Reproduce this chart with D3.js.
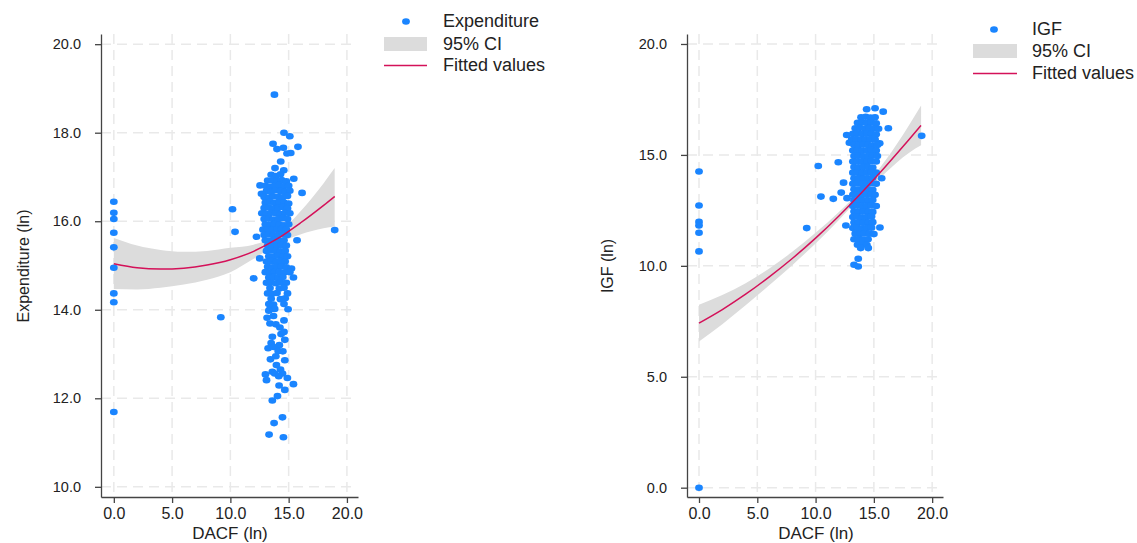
<!DOCTYPE html>
<html>
<head>
<meta charset="utf-8">
<script src="https://cdn.jsdelivr.net/npm/d3@7"></script>
<style>
  body { margin: 0; background: #fff; }
  svg { display: block; }
  text { font-family: "Liberation Sans", Arial, sans-serif; fill: #222; }
</style>
</head>
<body>
<svg id="chart" width="1137" height="543"></svg>
<script>
// ---- data ----
const xTicks = [0, 5, 10, 15, 20];
const expYTicks = [10, 12, 14, 16, 18, 20];
const igfYTicks = [0, 5, 10, 15, 20];

const expLegend = ["Expenditure", "95% CI", "Fitted values"];
const igfLegend = ["IGF", "95% CI", "Fitted values"];

// quadratic fit + 95% CI, sampled along DACF
const expFitX = [0, 2, 4, 6, 8, 10, 12, 14, 16, 18, 18.95];
const expFit = [15.04, 14.95, 14.92, 14.94, 15.01, 15.13, 15.32, 15.60, 15.96, 16.36, 16.56];
const expHi = [15.62, 15.45, 15.35, 15.31, 15.33, 15.40, 15.47, 15.70, 16.22, 16.86, 17.20];
const expLo = [14.47, 14.46, 14.50, 14.57, 14.68, 14.85, 15.15, 15.48, 15.70, 15.84, 15.88];

const igfFitX = [0, 2, 4, 6, 8, 10, 12, 14, 16, 18, 19.05];
const igfFit = [7.42, 8.03, 8.72, 9.49, 10.33, 11.25, 12.25, 13.33, 14.48, 15.68, 16.33];
const igfHi = [8.25, 8.69, 9.22, 9.87, 10.63, 11.49, 12.43, 13.48, 14.76, 16.33, 17.23];
const igfLo = [6.59, 7.37, 8.22, 9.11, 10.03, 11.01, 12.07, 13.18, 14.20, 15.09, 15.43];

// [DACF, Expenditure]
const expPoints = [
  [0,16.44],[0,16.19],[0,16.05],[0,15.74],[0,15.41],[0,14.95],[0,14.37],[0,14.17],[0,11.69],
  [9.18,13.83],[10.18,16.27],[10.4,15.76],[12.0,14.71],[18.95,15.8],[13.78,18.86],
  [14.6,18.0],[15.1,17.92],[13.66,17.75],[14.0,17.63],[14.55,17.66],[15.8,17.68],[14.86,17.53],
  [15.18,17.54],[14.32,17.35],[13.83,17.2],[14.58,17.15],
  [13.5,17.05],[13.9,17.02],[14.3,17.06],
  [13.2,16.92],[13.6,16.92],[14.0,16.9],[14.4,16.93],[14.8,16.9],[15.44,16.96],
  [12.55,16.81],[13.0,16.8],[13.4,16.78],[13.8,16.8],[14.2,16.82],[14.6,16.79],[15.0,16.8],
  [13.1,16.68],[13.5,16.66],[13.9,16.7],[14.3,16.68],[14.7,16.66],[15.1,16.69],[16.15,16.64],[12.67,16.62],
  [12.9,16.55],[13.3,16.53],[13.7,16.56],[14.1,16.55],[14.5,16.54],[14.9,16.57],
  [13.0,16.42],[13.4,16.44],[13.8,16.41],[14.2,16.43],[14.6,16.42],[15.0,16.4],
  [12.9,16.3],[13.3,16.31],[13.7,16.28],[14.1,16.3],[14.5,16.32],[14.9,16.29],
  [12.7,16.18],[13.1,16.17],[13.5,16.19],[13.9,16.18],[14.3,16.16],[14.7,16.19],[15.1,16.18],
  [12.9,16.05],[13.3,16.06],[13.7,16.04],[14.1,16.05],[14.5,16.07],[14.9,16.05],
  [13.0,15.93],[13.4,15.92],[13.8,15.94],[14.2,15.93],[14.6,15.91],[15.0,15.93],
  [12.8,15.81],[13.2,15.82],[13.6,15.8],[14.0,15.81],[14.4,15.83],[14.8,15.81],
  [12.24,15.65],[12.9,15.69],[13.3,15.7],[13.7,15.68],[14.1,15.69],[14.5,15.71],[14.9,15.69],
  [13.0,15.57],[13.4,15.56],[13.8,15.58],[14.2,15.56],[14.6,15.57],[15.72,15.57],
  [13.2,15.45],[13.6,15.46],[14.0,15.44],[14.4,15.46],[14.8,15.45],
  [13.1,15.33],[13.5,15.34],[13.9,15.33],[14.3,15.32],[14.7,15.33],
  [12.52,15.16],[13.3,15.21],[13.7,15.2],[14.1,15.22],[14.5,15.2],[14.9,15.21],
  [13.1,15.09],[13.5,15.1],[13.9,15.08],[14.3,15.1],[14.7,15.09],
  [13.2,14.97],[13.6,14.96],[14.0,14.98],[14.4,14.98],[14.8,14.96],[15.24,14.93],
  [13.0,14.85],[13.4,14.84],[13.8,14.86],[14.2,14.85],[14.6,14.84],[15.1,14.85],
  [13.3,14.73],[13.7,14.74],[14.1,14.72],[14.5,14.74],[15.41,14.73],
  [13.1,14.61],[13.5,14.62],[13.9,14.6],[14.3,14.62],[14.8,14.61],
  [13.4,14.49],[14.2,14.48],[14.6,14.5],
  [13.2,14.37],[13.6,14.36],[14.0,14.38],[14.9,14.37],
  [13.5,14.25],[14.3,14.24],[14.7,14.26],
  [13.3,14.13],[13.7,14.12],[14.6,14.13],
  [13.4,14.01],[13.8,14.02],[14.95,14.01],
  [13.3,13.98],[13.15,13.82],[13.7,13.86],[14.6,13.76],[13.4,13.69],[13.9,13.67],[14.25,13.6],
  [13.6,13.39],[14.35,13.45],[14.6,13.5],[14.67,13.32],[13.5,13.25],[14.2,13.2],
  [13.24,13.13],[13.72,13.16],[14.1,13.07],[14.5,13.06],[13.9,12.95],
  [13.44,12.88],[13.95,12.75],[14.67,12.86],[14.3,12.65],[13.6,12.6],
  [13.01,12.54],[13.8,12.56],[14.47,12.56],[14.15,12.5],[13.1,12.41],[14.89,12.46],
  [14.18,12.29],[14.67,12.19],[15.41,12.32],[13.6,11.95],[14.04,12.05],
  [14.47,11.57],[13.75,11.44],[13.32,11.18],[14.55,11.12]
];

// [DACF, IGF]
const igfPoints = [
  [0,14.25],[0,12.72],[0,11.98],[0,11.82],[0,11.49],[0,10.65],[0,0],
  [10.23,14.5],[11.95,14.67],[10.46,13.12],[11.52,13.02],[9.24,11.7],[19.1,15.86],
  [14.38,17.06],[15.1,17.1],[15.8,16.95],[16.24,16.2],[12.67,15.9],[12.9,15.55],[15.5,15.52],
  [15.67,13.95],[12.4,13.75],[12.2,13.3],[12.7,13.05],[12.6,11.82],[15.52,11.73],
  [13.9,16.7],[14.3,16.72],[14.7,16.68],[15.1,16.7],
  [13.6,16.45],[14.0,16.47],[14.4,16.44],[14.8,16.46],[15.2,16.43],
  [13.4,16.2],[13.8,16.22],[14.2,16.19],[14.6,16.21],[15.0,16.2],[15.4,16.18],
  [13.2,15.95],[13.6,15.97],[14.0,15.94],[14.4,15.96],[14.8,15.95],[15.2,15.93],
  [13.1,15.7],[13.5,15.71],[13.9,15.69],[14.3,15.7],[14.7,15.72],[15.1,15.7],
  [13.3,15.45],[13.7,15.44],[14.1,15.46],[14.5,15.45],[14.9,15.43],[15.3,15.45],
  [13.2,15.2],[13.6,15.21],[14.0,15.19],[14.4,15.2],[14.8,15.22],[15.2,15.2],
  [13.3,14.95],[13.7,14.96],[14.1,14.94],[14.5,14.95],[14.9,14.97],[15.3,14.95],
  [13.2,14.7],[13.6,14.71],[14.0,14.69],[14.4,14.7],[14.8,14.72],[15.2,14.7],
  [13.3,14.45],[13.7,14.44],[14.1,14.46],[14.5,14.45],[14.9,14.43],
  [13.2,14.2],[13.6,14.21],[14.0,14.19],[14.4,14.2],[14.8,14.22],[15.2,14.2],
  [13.3,13.95],[13.7,13.96],[14.1,13.94],[14.5,13.95],[14.9,13.97],
  [13.2,13.7],[13.6,13.71],[14.0,13.69],[14.4,13.7],[14.8,13.72],[15.2,13.7],
  [13.3,13.45],[13.7,13.44],[14.1,13.46],[14.5,13.45],[14.9,13.43],
  [13.2,13.2],[13.6,13.21],[14.0,13.19],[14.4,13.2],[14.8,13.22],[15.1,13.2],
  [13.3,12.95],[13.7,12.96],[14.1,12.94],[14.5,12.95],[14.9,12.97],
  [13.2,12.7],[13.6,12.71],[14.0,12.69],[14.4,12.7],[14.8,12.72],[15.2,12.7],
  [13.3,12.45],[13.7,12.44],[14.1,12.46],[14.5,12.45],[14.9,12.43],
  [13.2,12.2],[13.6,12.21],[14.0,12.19],[14.4,12.2],[14.8,12.22],
  [13.3,11.95],[13.7,11.96],[14.1,11.94],[14.5,11.95],[14.9,11.97],
  [13.2,11.7],[13.6,11.71],[14.0,11.69],[14.4,11.7],[14.8,11.72],
  [13.4,11.45],[13.8,11.44],[14.2,11.46],[14.6,11.45],[15.0,11.43],
  [13.3,11.2],[13.7,11.21],[14.1,11.19],[14.5,11.2],
  [13.6,10.95],[14.0,10.96],[14.4,10.94],
  [13.87,10.8],[14.52,10.8],[13.66,10.32],[13.3,10.05],[13.66,9.97]
];

// ---- drawing ----
const svg = d3.select("#chart");
const blue = "#1a85ff";
const red = "#d41159";
const ciFill = "#dcdcdc";
const fmt = d3.format(".1f");

function drawPanel(p) {
  const x = d3.scaleLinear().domain(p.xDomain).range([p.left, p.right]);
  const y = d3.scaleLinear().domain(p.yDomain).range([p.bottom, p.top]);
  const g = svg.append("g");

  // dashed grid
  g.append("g").selectAll("line")
    .data(xTicks)
    .join("line")
    .attr("x1", (d) => x(d)).attr("x2", (d) => x(d))
    .attr("y1", p.top).attr("y2", p.bottom)
    .attr("stroke", "#e9e9e9").attr("stroke-width", 1.5)
    .attr("stroke-dasharray", "10,6");
  g.append("g").selectAll("line")
    .data(p.yTicks)
    .join("line")
    .attr("x1", p.left).attr("x2", p.right - 3)
    .attr("y1", (d) => y(d)).attr("y2", (d) => y(d))
    .attr("stroke", "#e9e9e9").attr("stroke-width", 1.5)
    .attr("stroke-dasharray", "10,6");

  // CI band
  const band = p.fitX.map((v, i) => ({ x: v, lo: p.lo[i], hi: p.hi[i], f: p.fit[i] }));
  g.append("path")
    .datum(band)
    .attr("fill", ciFill)
    .attr("d", d3.area().curve(d3.curveMonotoneX)
      .x((d) => x(d.x)).y0((d) => y(d.lo)).y1((d) => y(d.hi)));

  // scatter
  g.append("g").selectAll("ellipse")
    .data(p.points)
    .join("ellipse")
    .attr("cx", (d) => x(d[0]))
    .attr("cy", (d) => y(d[1]))
    .attr("rx", 3.9).attr("ry", 3.3)
    .attr("fill", blue);

  // fitted line
  g.append("path")
    .datum(band)
    .attr("fill", "none")
    .attr("stroke", red)
    .attr("stroke-width", 1.5)
    .attr("d", d3.line().curve(d3.curveMonotoneX).x((d) => x(d.x)).y((d) => y(d.f)));

  // axes
  const yAxis = g.append("g")
    .attr("transform", `translate(${p.left},0)`)
    .call(d3.axisLeft(y).tickValues(p.yTicks).tickFormat(fmt).tickSize(6).tickSizeOuter(0).tickPadding(14));
  const xAxis = g.append("g")
    .attr("transform", `translate(0,${p.bottom})`)
    .call(d3.axisBottom(x).tickValues(xTicks).tickFormat(fmt).tickSize(6).tickSizeOuter(0).tickPadding(5));
  [yAxis, xAxis].forEach((a) => {
    a.attr("font-family", null);
    a.select(".domain").attr("stroke", "#444").attr("stroke-width", 1.3);
    a.selectAll(".tick line").attr("stroke", "#444").attr("stroke-width", 1.3);
    a.selectAll("text").attr("fill", "#222");
  });
  yAxis.selectAll("text").style("font-size", "14.5px");
  xAxis.selectAll("text").style("font-size", "16px");

  // titles
  g.append("text")
    .attr("x", p.xTitleX).attr("y", 539)
    .attr("text-anchor", "middle")
    .style("font-size", "17px")
    .text("DACF (ln)");
  g.append("text")
    .attr("transform", `translate(${p.yTitleX},266) rotate(-90)`)
    .attr("text-anchor", "middle")
    .style("font-size", "16px")
    .text(p.yTitle);

  // legend
  const L = p.legend;
  g.append("ellipse")
    .attr("cx", L.dotX).attr("cy", L.rows[0] - 5.5)
    .attr("rx", 3.9).attr("ry", 3.3).attr("fill", blue);
  g.append("rect")
    .attr("x", L.keyX).attr("y", L.rows[1] - 13)
    .attr("width", L.keyW).attr("height", 14)
    .attr("fill", ciFill);
  g.append("line")
    .attr("x1", L.keyX).attr("x2", L.keyX + L.keyW)
    .attr("y1", L.rows[2] - 5.5).attr("y2", L.rows[2] - 5.5)
    .attr("stroke", red).attr("stroke-width", 1.5);
  g.append("g").selectAll("text")
    .data(p.labels)
    .join("text")
    .attr("x", L.textX)
    .attr("y", (d, i) => L.rows[i])
    .style("font-size", "18px")
    .text((d) => d);
}

drawPanel({
  left: 101, right: 358, top: 34, bottom: 497,
  xDomain: [-1.1, 20.95], yDomain: [9.77, 20.23],
  yTicks: expYTicks, points: expPoints,
  fitX: expFitX, fit: expFit, lo: expLo, hi: expHi,
  xTitleX: 230, yTitleX: 29, yTitle: "Expenditure (ln)",
  labels: expLegend,
  legend: { dotX: 406, keyX: 384, keyW: 43, textX: 443, rows: [27, 50, 71] }
});

drawPanel({
  left: 687, right: 943, top: 34, bottom: 497,
  xDomain: [-1.03, 20.93], yDomain: [-0.42, 20.45],
  yTicks: igfYTicks, points: igfPoints,
  fitX: igfFitX, fit: igfFit, lo: igfLo, hi: igfHi,
  xTitleX: 816, yTitleX: 613, yTitle: "IGF (ln)",
  labels: igfLegend,
  legend: { dotX: 994, keyX: 973, keyW: 44, textX: 1032, rows: [35, 57, 79] }
});
</script>
</body>
</html>
